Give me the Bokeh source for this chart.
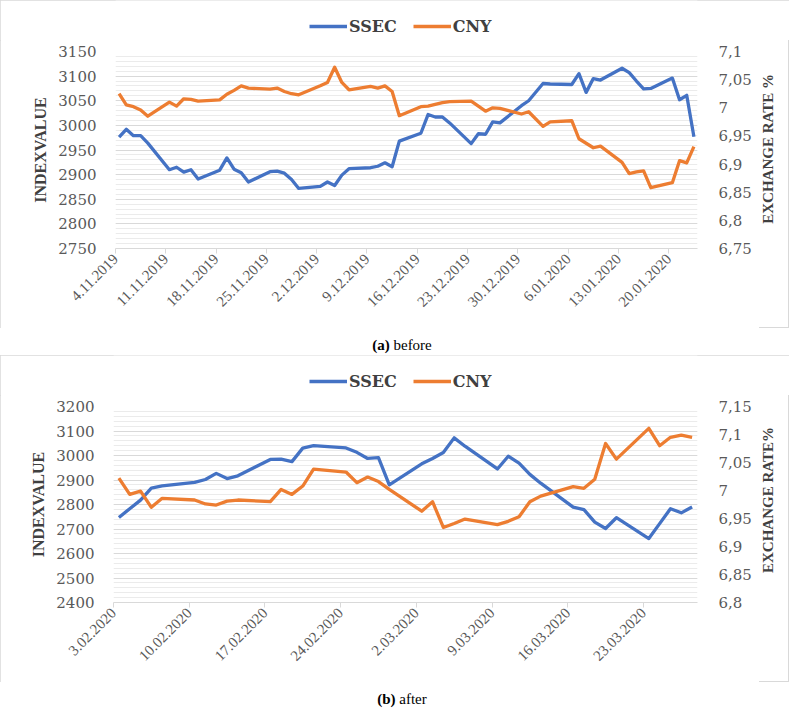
import math
import numpy as np
import pandas as pd
from bokeh.plotting import figure
from bokeh.models import (Range1d, LinearAxis, FixedTicker, CustomJSTickFormatter,
                          Legend, LegendItem, Div)
from bokeh.layouts import column, row
from bokeh.embed import file_html
from bokeh.resources import INLINE

# ---------------- data: (a) before ----------------
dates_a = ["2019-11-04", "2019-11-05", "2019-11-06", "2019-11-07", "2019-11-08",
           "2019-11-11", "2019-11-12", "2019-11-13", "2019-11-14", "2019-11-15",
           "2019-11-18", "2019-11-19", "2019-11-20", "2019-11-21", "2019-11-22",
           "2019-11-25", "2019-11-26", "2019-11-27", "2019-11-28", "2019-11-29",
           "2019-12-02", "2019-12-03", "2019-12-04", "2019-12-05", "2019-12-06",
           "2019-12-09", "2019-12-10", "2019-12-11", "2019-12-12", "2019-12-13",
           "2019-12-16", "2019-12-17", "2019-12-18", "2019-12-19", "2019-12-20",
           "2019-12-23", "2019-12-24", "2019-12-25", "2019-12-26", "2019-12-27",
           "2019-12-30", "2019-12-31", "2020-01-02", "2020-01-03",
           "2020-01-06", "2020-01-07", "2020-01-08", "2020-01-09", "2020-01-10",
           "2020-01-13", "2020-01-14", "2020-01-15", "2020-01-16", "2020-01-17",
           "2020-01-20", "2020-01-21", "2020-01-22", "2020-01-23"]
ssec_a = [2976, 2992, 2979, 2979, 2964,
          2910, 2915, 2905, 2910, 2891,
          2909, 2934, 2911, 2904, 2885,
          2906, 2907, 2903, 2890, 2872,
          2876, 2885, 2878, 2899, 2912,
          2914, 2917, 2924, 2916, 2968,
          2984, 3022, 3017, 3017, 3005,
          2963, 2983, 2982, 3007, 3005,
          3040, 3050, 3085, 3084,
          3083, 3105, 3067, 3095, 3092,
          3116, 3107, 3090, 3074, 3075,
          3096, 3052, 3061, 2977]
cny_a = [7.025, 7.005, 7.002, 6.996, 6.985,
         7.010, 7.003, 7.016, 7.015, 7.012,
         7.014, 7.024, 7.031, 7.039, 7.035,
         7.033, 7.035, 7.029, 7.025, 7.023,
         7.039, 7.045, 7.072, 7.045, 7.032,
         7.038, 7.035, 7.039, 7.029, 6.986,
         7.002, 7.003, 7.006, 7.009, 7.011,
         7.012, 7.003, 6.994, 7.000, 6.999,
         6.989, 6.993, 6.967, 6.975,
         6.977, 6.945, 6.937, 6.929, 6.932,
         6.903, 6.883, 6.886, 6.888, 6.858,
         6.867, 6.906, 6.902, 6.931]
ticks_a = ["4.11.2019", "11.11.2019", "18.11.2019", "25.11.2019", "2.12.2019",
           "9.12.2019", "16.12.2019", "23.12.2019", "30.12.2019", "6.01.2020",
           "13.01.2020", "20.01.2020"]

# ---------------- data: (b) after ----------------
dates_b = ["2020-02-03", "2020-02-04", "2020-02-05", "2020-02-06", "2020-02-07",
           "2020-02-10", "2020-02-11", "2020-02-12", "2020-02-13", "2020-02-14",
           "2020-02-17", "2020-02-18", "2020-02-19", "2020-02-20", "2020-02-21",
           "2020-02-24", "2020-02-25", "2020-02-26", "2020-02-27", "2020-02-28",
           "2020-03-02", "2020-03-03", "2020-03-04", "2020-03-05", "2020-03-06",
           "2020-03-09", "2020-03-10", "2020-03-11", "2020-03-12", "2020-03-13",
           "2020-03-16", "2020-03-17", "2020-03-18", "2020-03-19", "2020-03-20",
           "2020-03-23", "2020-03-24", "2020-03-25", "2020-03-26", "2020-03-27"]
ssec_b = [2747, 2783, 2818, 2867, 2876,
          2890, 2902, 2927, 2906, 2917,
          2984, 2985, 2975, 3030, 3040,
          3031, 3013, 2988, 2991, 2880,
          2966, 2988, 3012, 3072, 3038,
          2945, 2997, 2969, 2923, 2887,
          2789, 2779, 2728, 2702, 2746,
          2661, 2722, 2783, 2766, 2790]
cny_b = [7.022, 6.993, 6.999, 6.970, 6.986,
         6.983, 6.976, 6.974, 6.981, 6.983,
         6.980, 7.002, 6.993, 7.008, 7.038,
         7.033, 7.014, 7.024, 7.016, 7.002,
         6.963, 6.980, 6.934, 6.941, 6.949,
         6.939, 6.945, 6.953, 6.980, 6.990,
         7.007, 7.004, 7.020, 7.084, 7.056,
         7.111, 7.080, 7.095, 7.099, 7.095]
ticks_b = ["3.02.2020", "10.02.2020", "17.02.2020", "24.02.2020", "2.03.2020",
           "9.03.2020", "16.03.2020", "23.03.2020"]

series_names = ["SSEC", "CNY"]

BLUE = "#4472C4"
ORANGE = "#ED7D31"
TICK_COLOR = "#595959"
TITLE_COLOR = "#404040"
W = 789          # full box width
TW = 30          # width of the right-hand title strip
LW = 3.3
LEG_H = 40
B_TOP, B_BOTTOM = 11, 80


def make_legend_fig(b_left, frame_w, leg_x):
    f = figure(width=W, height=LEG_H, output_backend="svg", toolbar_location=None,
               x_range=Range1d(0, 1), y_range=Range1d(0, 1),
               x_axis_location=None, y_axis_location=None,
               min_border_left=b_left, min_border_right=W - b_left - frame_w,
               min_border_top=0, min_border_bottom=0, outline_line_color=None,
               background_fill_color="white", border_fill_color="white")
    f.grid.visible = False
    # off-range samples: only their styles feed the legend
    r1 = f.line(x=[-5, -4], y=[-5, -5], color=BLUE, line_width=LW)
    r2 = f.line(x=[-5, -4], y=[-5, -5], color=ORANGE, line_width=LW)
    legend = Legend(items=[LegendItem(label=series_names[0], renderers=[r1]),
                           LegendItem(label=series_names[1], renderers=[r2])],
                    orientation="horizontal", location=(leg_x, 4),
                    glyph_width=38, glyph_height=20, label_height=20,
                    label_standoff=2, spacing=16, padding=0, margin=0,
                    border_line_color=None, background_fill_alpha=0,
                    label_text_font="DejaVu Serif", label_text_font_style="bold",
                    label_text_font_size="16px", label_text_color=TITLE_COLOR)
    f.add_layout(legend)
    return f


def make_panel(dates, ssec, cny, tick_labels, left_lo, left_hi, left_step,
               right_lo, right_hi, b_left, frame_w, frame_h):
    d = pd.to_datetime(pd.Series(dates))
    start = d.iloc[0]
    x = ((d - start).dt.days + 0.5).tolist()
    xmax = float((d.iloc[-1] - start).days + 1)
    tick_pos = [int((pd.to_datetime(t, format="%d.%m.%Y") - start).days) for t in tick_labels]

    pw = W - TW
    p = figure(width=pw, height=B_TOP + frame_h + B_BOTTOM, output_backend="svg",
               toolbar_location=None,
               x_range=Range1d(0, xmax), y_range=Range1d(left_lo, left_hi),
               min_border_left=b_left, min_border_right=pw - b_left - frame_w,
               min_border_top=B_TOP, min_border_bottom=B_BOTTOM,
               outline_line_color=None, background_fill_color="white",
               border_fill_color="white")
    p.extra_y_ranges = {"cny": Range1d(right_lo, right_hi)}

    p.line(x, ssec, color=BLUE, line_width=LW, line_join="round")
    p.line(x, cny, color=ORANGE, line_width=LW, line_join="round", y_range_name="cny")

    # x axis
    xa = p.xaxis[0]
    xa.ticker = FixedTicker(ticks=tick_pos)
    xa.major_label_overrides = {t: lab for t, lab in zip(tick_pos, tick_labels)}
    xa.major_label_orientation = math.pi / 4
    xa.major_label_text_font = "Liberation Serif"
    xa.major_label_text_font_size = "15px"
    xa.major_label_text_color = TICK_COLOR
    xa.axis_line_color = "#d9d9d9"
    xa.major_tick_line_color = "#d9d9d9"
    xa.major_tick_in = 0
    xa.major_tick_out = 5
    xa.minor_tick_line_color = None
    xa.major_label_standoff = 3
    p.xgrid.grid_line_color = None

    # left axis
    ya = p.yaxis[0]
    lticks = list(range(left_lo, left_hi + 1, left_step))
    lminor = list(range(left_lo, left_hi + 1, left_step // 5))
    ya.ticker = FixedTicker(ticks=lticks, minor_ticks=lminor)
    ya.axis_line_color = None
    ya.major_tick_line_color = None
    ya.major_tick_out = 0
    ya.major_tick_in = 0
    ya.minor_tick_line_color = None
    ya.minor_tick_out = 0
    ya.major_label_text_font = "DejaVu Serif"
    ya.major_label_text_font_size = "15px"
    ya.major_label_text_color = TICK_COLOR
    ya.major_label_standoff = 19
    ya.axis_label = "INDEXVALUE"
    ya.axis_label_text_font = "Liberation Serif"
    ya.axis_label_text_font_style = "bold"
    ya.axis_label_text_font_size = "16px"
    ya.axis_label_text_color = TITLE_COLOR
    ya.axis_label_standoff = 6
    p.ygrid.grid_line_color = "#d9d9d9"
    p.ygrid.grid_line_width = 1
    p.ygrid.minor_grid_line_color = "#ebebeb"
    p.ygrid.minor_grid_line_width = 1

    # right axis: tick labels with decimal comma
    rticks = np.round(np.arange(right_lo, right_hi + 1e-9, 0.05), 2).tolist()
    ra = LinearAxis(y_range_name="cny",
                    ticker=FixedTicker(ticks=rticks),
                    formatter=CustomJSTickFormatter(
                        code="return (Math.round(tick*100)/100).toString().replace('.', ',');"))
    ra.axis_line_color = None
    ra.major_tick_line_color = None
    ra.major_tick_out = 0
    ra.major_tick_in = 0
    ra.minor_tick_line_color = None
    ra.minor_tick_out = 0
    ra.major_label_text_font = "DejaVu Serif"
    ra.major_label_text_font_size = "15px"
    ra.major_label_text_color = TICK_COLOR
    ra.major_label_standoff = 21
    p.add_layout(ra, "right")
    return p


def make_right_title(text, height, top):
    html = ('<div style="position:relative;width:%dpx;height:%dpx;">'
            '<div style="position:absolute;left:1px;top:%dpx;writing-mode:vertical-rl;'
            'transform:rotate(180deg);white-space:nowrap;line-height:17px;'
            "font-family:'Liberation Serif';font-weight:bold;font-size:15px;"
            'color:%s;">%s</div></div>' % (TW, height, top, TITLE_COLOR, text))
    return Div(text=html, width=TW, height=height, margin=0)


box_style = {"outline": "1px solid #d9d9d9", "outline-offset": "-1px"}
ph = B_TOP + 197 + B_BOTTOM

leg_a = make_legend_fig(115, 582, 194)
pa = make_panel(dates_a, ssec_a, cny_a, ticks_a, 2750, 3150, 50, 6.75, 7.1,
                115, 582, 197)
ta = make_right_title("EXCHANGE RATE %", ph, 34)

leg_b = make_legend_fig(113, 584, 196)
pb = make_panel(dates_b, ssec_b, cny_b, ticks_b, 2400, 3200, 100, 6.8, 7.15,
                113, 584, 196)
tb = make_right_title("EXCHANGE RATE%", B_TOP + 196 + B_BOTTOM, 32)

cap_style = ("width:%dpx;text-align:center;font-family:'Liberation Serif';font-size:15px;"
             "color:#000;padding-left:15px;padding-top:7px;box-sizing:border-box;"
             "line-height:20px;" % W)
cap_a = Div(text='<div style="%s"><b>(a)</b> before</div>' % cap_style,
            width=W, height=27, margin=0)
cap_b = Div(text='<div style="%s"><b>(b)</b> after</div>' % cap_style,
            width=W, height=24, margin=0)

box_a = column(leg_a, row(pa, ta), styles=box_style)
box_b = column(leg_b, row(pb, tb), styles=box_style)
layout = column(box_a, cap_a, box_b, cap_b)
open("out.html", "w").write(file_html(layout, INLINE))
